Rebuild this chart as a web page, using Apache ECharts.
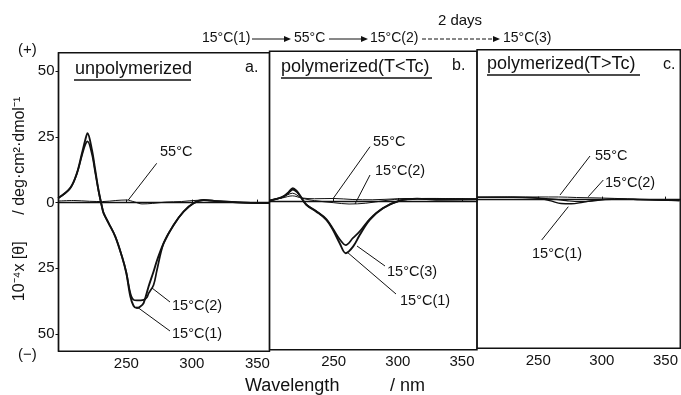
<!DOCTYPE html>
<html>
<head>
<meta charset="utf-8">
<script src="https://cdn.jsdelivr.net/npm/echarts@6/dist/echarts.min.js"></script>
<style>
  html, body { margin: 0; padding: 0; background: #fff; }
  #chart { width: 681px; height: 395px; }
</style>
</head>
<body>
<div id="chart"></div>
<script>
// tick labels
const waveTicks = [250, 300, 350];
const thetaTicks = [-50, -25, 0, 25, 50];

// a. unpolymerized
const aWave1 = [198, 207.2, 212.3, 216.2, 218.7, 220.4, 223.8, 226.3, 228.8, 231.4, 232.7, 236.5, 241.6, 246.7, 250, 253.1, 255.5, 258.1, 260.5, 263.2, 267, 270.8, 273.4, 278.5, 286.1, 293.7, 301.4, 309, 320, 335, 359];
const a15c1 = [1.7, 5.5, 11.2, 18.8, 23.8, 26.4, 20, 12.4, 4.8, -1.5, -4, -7.8, -12.9, -20.5, -26.8, -35.7, -39.2, -40.1, -39.6, -38.2, -31.9, -26.2, -22, -15.4, -8.5, -3.4, -0.2, 1.0, 0.5, 0.1, -0.2];
const aWave2 = [198, 207.2, 212.3, 216.2, 218.7, 220.4, 223.8, 226.3, 228.8, 231.4, 232.7, 236.5, 241.6, 246.7, 250, 253.1, 255.6, 258.1, 263.2, 265.8, 267, 270.8, 273.4, 278.5, 286.1, 293.7, 301.4, 309, 320, 335, 359];
const a15c2 = [1.7, 5.5, 11.0, 18.0, 22.0, 23.3, 18.5, 11.5, 4.5, -1.5, -4, -7.8, -12.9, -20.5, -26.5, -34.5, -37, -37.2, -37, -36, -34.5, -31.3, -25.6, -15.4, -8.5, -3.4, -0.2, 1.0, 0.5, 0.1, -0.2];
const aWave55 = [198, 210, 222, 232, 242, 250, 256, 262, 270, 280, 292, 305, 318, 335, 359];
const a55 = [0.6, 0.8, 0.5, 0.4, 0.8, 1.0, 0.3, -0.5, -0.3, 0.2, 0.4, 0.9, 0.6, 0.1, -0.3];

// b. polymerized (T<Tc)
const bWave = [200, 205, 210.4, 214.5, 218.2, 221, 223.4, 228.7, 236.5, 244.3, 249.5, 254.7, 259.4, 265.1, 270.3, 278.1, 288.5, 301.6, 315, 330, 362];
const b15c1 = [0.2, 0.8, 1.7, 3.2, 4.9, 4.0, 2.4, -1.4, -4, -7.1, -11, -16, -19.8, -17.3, -12.9, -7.1, -2.7, 0.2, 0.9, 0.6, 0.7];
const b15c3 = [0.2, 0.8, 1.6, 3.0, 4.4, 3.6, 2.2, -1.3, -3.8, -6.8, -10.5, -14.5, -16.7, -14, -11.5, -6.8, -2.6, 0.2, 0.9, 0.6, 0.7];
const bWave55 = [200, 210, 218, 225, 235, 250, 265, 280, 300, 330, 362];
const b55 = [0.2, 1.2, 2.0, 1.2, 0.9, 1.0, 0.6, 0.5, 0.9, 1.0, 0.7];
const bWave2 = [200, 210, 218, 225, 235, 250, 262, 275, 290, 305, 330, 362];
const b15c2 = [0.2, 1.4, 3.0, 1.2, 0.2, -0.6, -1.1, -0.8, 0.2, 0.9, 1.0, 0.7];

// c. polymerized (T>Tc)
const cWave1 = [202, 230, 250, 260, 268, 276, 285, 295, 310, 330, 361];
const c15c1 = [0.9, 0.9, 0.5, -0.5, -1.5, -1.6, -1.0, -0.2, 0.2, 0, -0.4];
const cWave2 = [202, 230, 250, 262, 272, 282, 292, 302, 315, 330, 361];
const c15c2 = [0.9, 0.9, 0.6, 0.2, -0.4, -0.8, -0.6, 0, 0.2, 0, -0.4];
const cWave55 = [202, 230, 250, 266, 280, 300, 320, 340, 361];
const c55 = [0.9, 1.0, 1.0, 1.0, 0.8, 0.6, 0.3, 0, -0.4];

const FONT = '"Liberation Sans", Arial, sans-serif';
const INK = '#111';

const pairs = (xs, ys) => xs.map((x, i) => [x, ys[i]]);

// scan is slightly tilted, so each panel sits a little higher than the last
const grids = [
  { left: 58.5, top: 52.7, width: 211, height: 298.5 },
  { left: 269.5, top: 51.2, width: 207.5, height: 298.5 },
  { left: 477, top: 49.7, width: 206, height: 298.5 },
];
const ranges = [[198.3, 359.2], [200, 361.7], [201.9, 361.6]];

function curve(gi, data, width) {
  return {
    type: 'line',
    xAxisIndex: gi,
    yAxisIndex: gi,
    data,
    symbol: 'none',
    smooth: 0.35,
    lineStyle: { color: INK, width },
    silent: true,
  };
}

function label(text, x, y, size) {
  return {
    type: 'text', x, y,
    style: { text, fill: INK, font: (size || 14.5) + 'px ' + FONT, textVerticalAlign: 'middle' },
  };
}
function seg(x1, y1, x2, y2, w, dash) {
  return {
    type: 'line',
    shape: { x1, y1, x2, y2 },
    style: { stroke: INK, lineWidth: w || 1, lineDash: dash || null },
  };
}
function head(x, y) {
  return {
    type: 'polygon',
    shape: { points: [[x, y], [x - 7, y - 3], [x - 7, y + 3]] },
    style: { fill: INK },
  };
}

const option = {
  animation: false,
  backgroundColor: '#fff',
  grid: grids.map((g) => ({ ...g, show: true, borderColor: INK, borderWidth: 1.4, backgroundColor: 'transparent' })),
  xAxis: grids.map((g, i) => ({
    type: 'value',
    gridIndex: i,
    min: ranges[i][0],
    max: ranges[i][1],
    splitLine: { show: false },
    axisLine: { show: true, lineStyle: { color: INK, width: 1.4 } },
    axisTick: { show: true, inside: true, length: 3, customValues: waveTicks, lineStyle: { color: INK } },
    axisLabel: { customValues: waveTicks, color: INK, fontSize: 15, fontFamily: FONT, margin: 5 },
  })),
  yAxis: grids.map((g, i) => ({
    type: 'value',
    gridIndex: i,
    min: -56.5,
    max: 57,
    show: i === 0,
    splitLine: { show: false },
    axisLine: { show: true, lineStyle: { color: INK, width: 1.4 } },
    axisTick: { show: true, length: 3, customValues: thetaTicks, lineStyle: { color: INK } },
    axisLabel: {
      customValues: thetaTicks, color: INK, fontSize: 15, fontFamily: FONT, margin: 4,
      formatter: (v) => String(Math.abs(v)),
    },
  })),
  series: [
    curve(0, pairs(aWave55, a55), 1),
    curve(0, pairs(aWave2, a15c2), 1.7),
    curve(0, pairs(aWave1, a15c1), 1.9),
    curve(1, pairs(bWave55, b55), 1),
    curve(1, pairs(bWave2, b15c2), 1),
    curve(1, pairs(bWave, b15c3), 1.7),
    curve(1, pairs(bWave, b15c1), 1.9),
    curve(2, pairs(cWave55, c55), 1),
    curve(2, pairs(cWave2, c15c2), 1.2),
    curve(2, pairs(cWave1, c15c1), 1.4),
  ],
  graphic: [
    // heating / cooling sequence on top
    label('15°C(1)', 202, 38, 14),
    seg(252, 39, 288, 39), head(291, 39),
    label('55°C', 294, 38, 14),
    seg(329, 39, 365, 39), head(368, 39),
    label('15°C(2)', 370, 38, 14),
    seg(422, 39, 497, 39, 1, [4, 2]), head(500, 39),
    label('15°C(3)', 503, 38, 14),
    { type: 'text', x: 460, y: 21, style: { text: '2 days', fill: INK, font: '15px ' + FONT, textAlign: 'center', textVerticalAlign: 'middle' } },

    label('(+)', 18, 50, 15),
    label('(−)', 18, 355, 15),
    {
      type: 'text', x: 20, y: 199, rotation: Math.PI / 2,
      style: { text: '10⁻⁴x [θ]      / deg·cm²·dmol⁻¹', fill: INK, font: '16px ' + FONT, textAlign: 'center', textVerticalAlign: 'middle' },
    },
    label('Wavelength', 245, 386, 18),
    label('/ nm', 390, 386, 18),

    // panel titles
    label('unpolymerized', 75, 69, 18), seg(74, 80, 191, 80, 1.3),
    label('a.', 245, 68, 16),
    label('polymerized(T<Tc)', 281, 67, 18), seg(281, 78, 432, 78, 1.3),
    label('b.', 452, 66, 16),
    label('polymerized(T>Tc)', 487, 64, 18), seg(487, 75, 640, 75, 1.3),
    label('c.', 663, 65, 16),

    // curve labels, panel a
    label('55°C', 160, 152), seg(156.7, 163.3, 128.3, 200),
    label('15°C(2)', 172, 306), seg(152, 288, 170, 302),
    label('15°C(1)', 172, 334), seg(136.7, 306.7, 170, 331),

    // panel b
    label('55°C', 373, 142), seg(370, 146.7, 333.3, 198.3),
    label('15°C(2)', 375, 171), seg(370, 175, 355, 204),
    label('15°C(3)', 387, 272), seg(357, 246, 385, 266),
    label('15°C(1)', 400, 301), seg(347, 252, 396, 294),

    // panel c
    label('55°C', 595, 156), seg(590, 156, 560, 195),
    label('15°C(2)', 605, 183), seg(603.3, 180, 588.3, 196.7),
    label('15°C(1)', 532, 254), seg(541.7, 240, 568.3, 206.7),
  ],
};

const chart = echarts.init(document.getElementById('chart'), null, { renderer: 'canvas' });
chart.setOption(option);
</script>
</body>
</html>
